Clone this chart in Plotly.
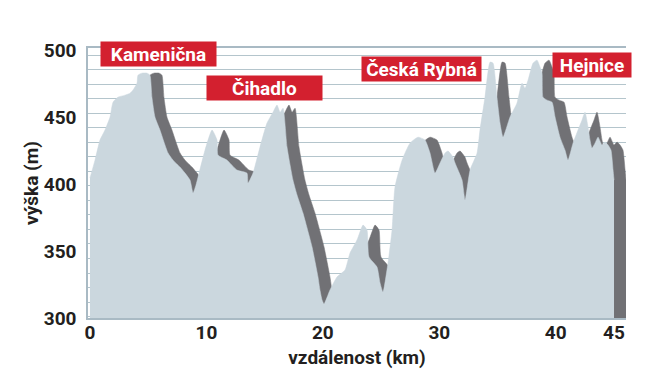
import plotly.graph_objects as go

# distance along the route (km) and elevation (m)
distance_km = [0.00, 0.43, 0.86, 1.29, 1.72, 1.98, 2.40, 3.01, 3.44, 3.69, 4.04, 4.12, 4.47, 4.90,
               5.15, 5.32, 5.58, 6.01, 6.44, 6.70, 7.13, 7.73, 8.16, 8.59, 8.85, 9.10, 9.28, 9.88,
               10.48, 10.91, 10.99, 11.77, 12.62, 13.48, 13.57, 14.00, 14.60, 15.20, 15.72, 16.06,
               16.32, 16.58, 16.92, 17.43, 17.78, 18.29, 19.07, 19.58, 19.75, 19.93, 20.10, 20.61,
               21.21, 21.90, 22.33, 22.93, 23.45, 23.79, 23.96, 24.65, 24.91, 25.16, 25.59, 25.94,
               26.19, 26.80, 27.48, 28.17, 28.77, 29.20, 29.63, 30.06, 30.49, 30.75, 31.17, 31.35,
               31.95, 32.21, 32.64, 33.24, 33.49, 33.92, 34.35, 34.61, 34.95, 35.21, 35.47, 36.07,
               36.67, 37.10, 37.36, 37.62, 38.05, 38.39, 38.65, 38.82, 38.90, 39.25, 39.68, 39.94,
               40.36, 40.79, 41.05, 41.48, 41.91, 42.25, 42.51, 42.77, 42.94, 43.11, 43.37, 43.63,
               43.97, 44.23, 44.49, 44.74, 44.92, 45.00]
elevation_m = [404.7, 418.1, 433.1, 440.6, 450.3, 461.5, 465.2, 466.7, 468.2, 470.5, 475.7, 481.7, 483.2, 483.2,
               481.7, 465.2, 450.3, 440.6, 429.4, 423.4, 418.1, 412.9, 408.4, 403.2, 393.5, 399.4, 405.4, 425.6,
               440.6, 433.1, 421.9, 418.1, 410.7, 408.4, 400.9, 408.4, 427.9, 445.8, 454.0, 459.3,
               454.0, 457.0, 427.9, 403.2, 392.0, 378.5, 353.1, 330.7, 320.9, 313.5, 310.5, 320.9,
               330.7, 335.9, 348.6, 358.3, 369.5, 365.8, 345.6, 338.1, 326.2, 319.4, 341.1, 365.8,
               397.9, 418.1, 430.8, 435.3, 433.1, 423.4, 408.4, 415.9, 423.4, 424.9, 420.4, 415.9,
               403.2, 388.2, 410.7, 423.4, 440.6, 465.2, 491.4, 490.7, 465.2, 445.8, 435.3, 450.3,
               460.8, 475.7, 472.0, 478.0, 490.7, 492.9, 487.7, 483.2, 465.2, 463.0, 461.5, 450.3,
               435.3, 425.6, 418.1, 430.8, 440.6, 448.0, 454.0, 442.8, 433.1, 427.1, 430.8, 435.3,
               429.4, 431.6, 429.4, 425.6, 410.7, 403.2]

# place labels
place_names = ["Kamenična", "Čihadlo", "Česká Rybná", "Hejnice"]
place_km = [5.88, 14.99, 28.47, 43.11]
place_elev = [497.4, 472.0, 486.2, 489.5]
place_box_w = [115, 115, 119, 78]

x_ticks = [0, 10, 20, 30, 40, 45]
y_ticks = [300, 350, 400, 450, 500]

SHADOW_KM = 1.03
LIGHT = "#cbd7de"
DARK = "#717175"
GRID = "#b4c5cc"
AXIS = "#a9bac4"
RED = "#d3202f"
FONT = "Roboto, Liberation Sans, sans-serif"
INK = "#231f20"

fig = go.Figure()
fig.add_trace(go.Scatter(
    x=[d + SHADOW_KM for d in distance_km], y=elevation_m,
    mode="lines", line=dict(color=DARK, width=0.5, shape="spline", smoothing=0.5),
    fill="tozeroy", fillcolor=DARK, hoverinfo="skip", showlegend=False))
fig.add_trace(go.Scatter(
    x=distance_km, y=elevation_m,
    mode="lines", line=dict(color=LIGHT, width=0.5, shape="spline", smoothing=0.5),
    fill="tozeroy", fillcolor=LIGHT, showlegend=False))
# empty trace to carry the grid axis
fig.add_trace(go.Scatter(x=[], y=[], yaxis="y2", showlegend=False, hoverinfo="skip"))

for name, xk, ye, w in zip(place_names, place_km, place_elev, place_box_w):
    fig.add_annotation(x=xk, y=ye, xref="x", yref="y", text=name, showarrow=False,
                       bgcolor=RED, width=w, height=24, borderpad=0, align="center",
                       font=dict(family=FONT, size=19, color="white", weight="bold"))

# the page body has an 8px margin, so the figure is sized to fit the window
fig.update_layout(
    width=643, height=370,
    margin=dict(l=80, r=25, t=40, b=60),
    paper_bgcolor="white", plot_bgcolor="white",
    font=dict(family=FONT, size=19, color=INK, weight="bold"),
    xaxis=dict(range=[-0.17, 46.03], tickvals=x_ticks, showgrid=False, zeroline=False,
               showline=True, linecolor=AXIS, linewidth=1.5, mirror=True, ticks="",
               automargin=False, ticklabelstandoff=-4,
               tickfont=dict(family=FONT, size=19, color=INK, weight="bold"),
               title=dict(text="vzdálenost (km)", standoff=8,
                          font=dict(family=FONT, size=19, color=INK, weight="bold"))),
    yaxis=dict(range=[300, 502], tickvals=y_ticks, showgrid=False, zeroline=False,
               showline=True, linecolor=AXIS, linewidth=1.5, ticks="", ticklabelstandoff=6,
               automargin=False,
               tickfont=dict(family=FONT, size=19, color=INK, weight="bold"),
               title=dict(text="výška (m)", standoff=0,
                          font=dict(family=FONT, size=19, color=INK, weight="bold"))),
    yaxis2=dict(overlaying="y", range=[-0.1, 18.5], dtick=1, showgrid=True, gridcolor=GRID,
                gridwidth=1.2, showticklabels=False, zeroline=False, showline=False, ticks="",
                automargin=False),
)

fig.write_html("out.html")
